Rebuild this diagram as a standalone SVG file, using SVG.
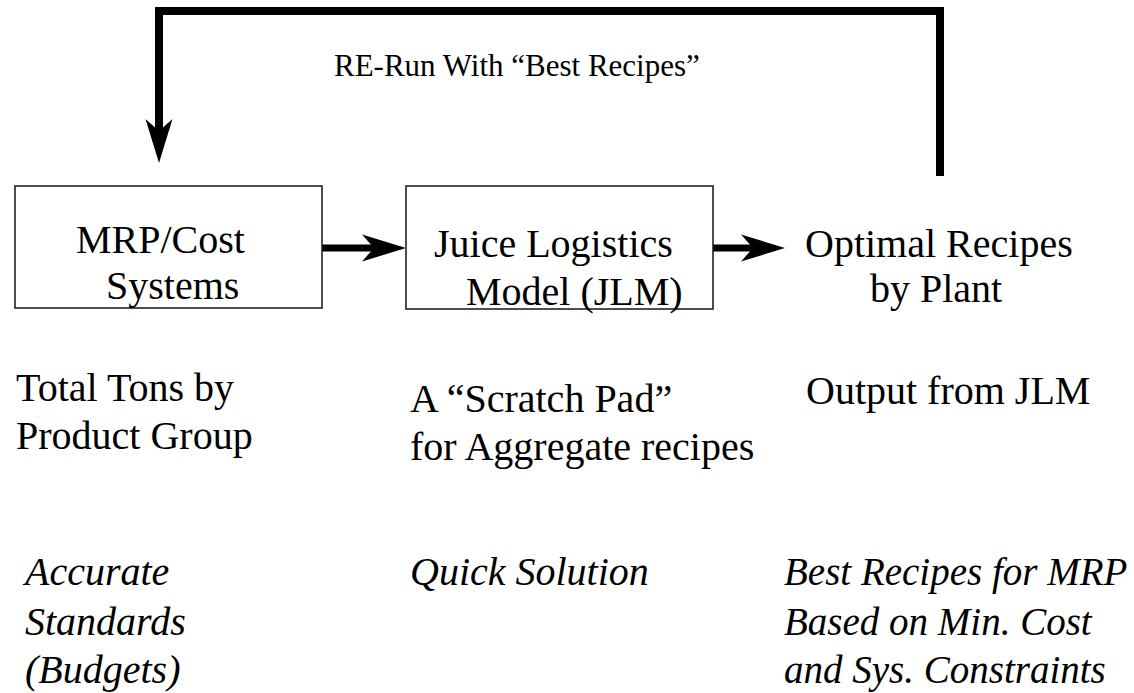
<svg xmlns="http://www.w3.org/2000/svg" width="1134" height="693" viewBox="0 0 1134 693">
  <defs>
    <style>
      .box { fill: #ffffff; stroke: #222222; stroke-width: 1.6; }
      .t { font-family: "Liberation Serif", "Times New Roman", serif; font-size: 40px; fill: #000000; }
      .i { font-style: italic; }
      .r { font-size: 39px; }
      .small { font-size: 31px; }
      .conn { fill: none; stroke: #000000; stroke-width: 8; stroke-linejoin: miter; stroke-linecap: butt; }
      .thin { stroke-width: 7; }
    </style>
    <marker id="head" markerUnits="userSpaceOnUse" viewBox="-13 -15 46 30" markerWidth="46" markerHeight="30" refX="0" refY="0" orient="auto">
      <path d="M-12,-13.5 L32,0 L-12,13.5 L0,0 Z" fill="#000000"/>
    </marker>
  </defs>
  <rect width="1134" height="693" fill="#ffffff"/>

  <g id="connectors">
    <path class="conn" d="M940,176 L940,11 L159,11 L159,131" marker-end="url(#head)"/>
    <path class="conn thin" d="M322,248 L374,248" marker-end="url(#head)"/>
    <path class="conn thin" d="M713,248 L753,248" marker-end="url(#head)"/>
    <text class="t small" x="334" y="76">RE-Run With “Best Recipes”</text>
  </g>

  <g id="mrp">
    <rect class="box" x="15" y="186" width="307" height="122"/>
    <text class="t" x="76" y="253">MRP/Cost</text>
    <text class="t" x="106" y="299">Systems</text>
  </g>

  <g id="jlm">
    <rect class="box" x="406" y="186" width="307" height="123"/>
    <text class="t" x="434" y="257">Juice Logistics</text>
    <text class="t" x="466" y="305">Model (JLM)</text>
  </g>

  <g id="optimal">
    <text class="t" x="805" y="257">Optimal Recipes</text>
    <text class="t" x="870" y="302">by Plant</text>
  </g>

  <g id="desc-mrp">
    <text class="t" x="16" y="401">Total Tons by</text>
    <text class="t" x="16" y="449">Product Group</text>
  </g>

  <g id="desc-jlm">
    <text class="t" x="410" y="412">A “Scratch Pad”</text>
    <text class="t" x="410" y="460">for Aggregate recipes</text>
  </g>

  <g id="desc-optimal">
    <text class="t" x="806" y="404">Output from JLM</text>
  </g>

  <g id="note-mrp">
    <text class="t i" x="25" y="585">Accurate</text>
    <text class="t i" x="25" y="635">Standards</text>
    <text class="t i" x="25" y="683">(Budgets)</text>
  </g>

  <g id="note-jlm">
    <text class="t i" x="410" y="585">Quick Solution</text>
  </g>

  <g id="note-optimal">
    <text class="t i r" x="784" y="585">Best Recipes for MRP</text>
    <text class="t i r" x="784" y="635">Based on Min. Cost</text>
    <text class="t i r" x="784" y="683">and Sys. Constraints</text>
  </g>
</svg>
